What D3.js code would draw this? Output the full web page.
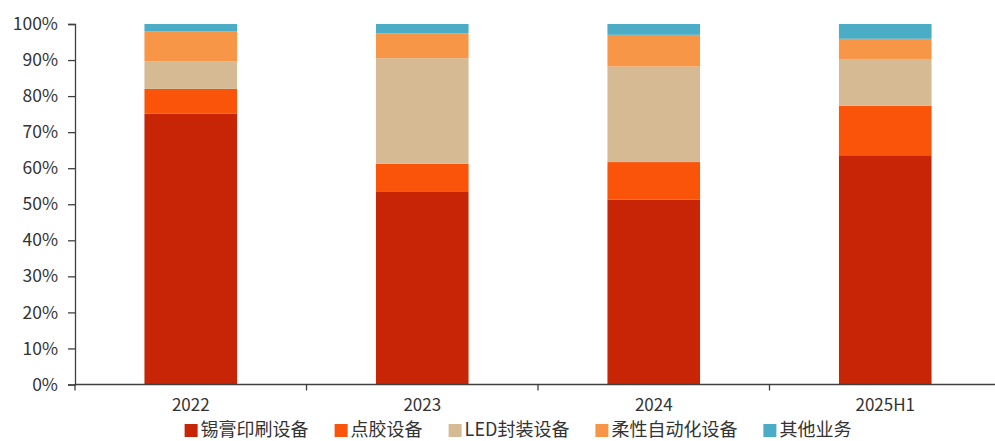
<!DOCTYPE html>
<html lang="zh">
<head>
    <meta charset="UTF-8">
    <title>业务收入结构</title>
    <script src="https://d3js.org/d3.v7.min.js"></script>
    <style>
        body { margin: 0; background: #fff; }
        text { font-family: "Noto Sans CJK SC", "Noto Sans", sans-serif; fill: #333; }
    </style>
</head>
<body>
<div id="chart"></div>
<script>
// Categories (years) and series shares
const years = ["2022", "2023", "2024", "2025H1"];
const seriesNames = ["锡膏印刷设备", "点胶设备", "LED封装设备", "柔性自动化设备", "其他业务"];
const solderPaste = [0.751, 0.536, 0.513, 0.636];
const dispensing  = [0.069, 0.076, 0.104, 0.137];
const ledPackage  = [0.076, 0.293, 0.265, 0.130];
const flexAuto    = [0.083, 0.069, 0.088, 0.056];
const otherBiz    = [0.021, 0.026, 0.030, 0.041];
const yTicks = [0, 0.1, 0.2, 0.3, 0.4, 0.5, 0.6, 0.7, 0.8, 0.9, 1.0];
const colors = ["#C82506", "#F95409", "#D5BA93", "#F79646", "#4BACC6"];

const width = 995, height = 441;
const mLeft = 75, mRight = 1001, mTop = 24, mBottom = 384.5;

// build table for the stack layout
const rows = years.map((y, i) => ({
    year: y,
    s0: solderPaste[i], s1: dispensing[i], s2: ledPackage[i], s3: flexAuto[i], s4: otherBiz[i]
}));
const keys = ["s0", "s1", "s2", "s3", "s4"];
const stacked = d3.stack().keys(keys)(rows);

const svg = d3.select("#chart").append("svg")
    .attr("width", width)
    .attr("height", height);

const x = d3.scaleBand().domain(years).range([mLeft, mRight]).paddingInner(0.6).paddingOuter(0.3);
const y = d3.scaleLinear().domain([0, 1]).range([mBottom, mTop]);

// bars
svg.append("g").selectAll("g")
    .data(stacked)
    .join("g")
    .attr("fill", (d, i) => colors[i])
    .selectAll("rect")
    .data(d => d)
    .join("rect")
    .attr("x", d => x(d.data.year))
    .attr("width", x.bandwidth())
    .attr("y", d => y(d[1]))
    .attr("height", d => y(d[0]) - y(d[1]));

// y axis
const yAxis = svg.append("g")
    .attr("transform", `translate(${mLeft},0)`)
    .call(d3.axisLeft(y).tickValues(yTicks).tickFormat(d3.format(".0%")).tickSize(7).tickPadding(10));
yAxis.select(".domain").attr("stroke", "#404040").attr("stroke-width", 1.3);
yAxis.selectAll(".tick line").attr("stroke", "#404040").attr("stroke-width", 1.3);
yAxis.selectAll(".tick text")
    .attr("font-size", "17.5px")
    .attr("fill", "#333")
    .style("font-family", "'Noto Sans CJK SC', sans-serif");

// x axis: domain line plus boundary ticks between categories
const xg = svg.append("g");
xg.append("line")
    .attr("x1", mLeft).attr("x2", mRight)
    .attr("y1", mBottom).attr("y2", mBottom)
    .attr("stroke", "#404040").attr("stroke-width", 1.3);
const bounds = years.map(d => x(d) - x.step() * 0.3);
xg.selectAll(".bt")
    .data(bounds)
    .join("line")
    .attr("x1", d => d).attr("x2", d => d)
    .attr("y1", mBottom).attr("y2", mBottom + 6)
    .attr("stroke", "#404040").attr("stroke-width", 1.3);
xg.selectAll(".xl")
    .data(years)
    .join("text")
    .attr("x", d => x(d) + x.bandwidth() / 2)
    .attr("y", 411)
    .attr("text-anchor", "middle")
    .attr("font-size", "17px")
    .text(d => d);

// legend
const legend = svg.append("g");
const items = legend.selectAll("g")
    .data(seriesNames)
    .join("g");
items.append("rect")
    .attr("width", 13).attr("height", 13)
    .attr("y", -12)
    .attr("fill", (d, i) => colors[i]);
items.append("text")
    .attr("x", 16)
    .attr("font-size", "18px")
    .text(d => d);
let cx = 0;
items.each(function () {
    d3.select(this).attr("transform", `translate(${cx},0)`);
    cx += 16 + this.querySelector("text").getComputedTextLength() + 26;
});
const total = cx - 26;
legend.attr("transform", `translate(${518 - total / 2},436)`);
</script>
</body>
</html>
